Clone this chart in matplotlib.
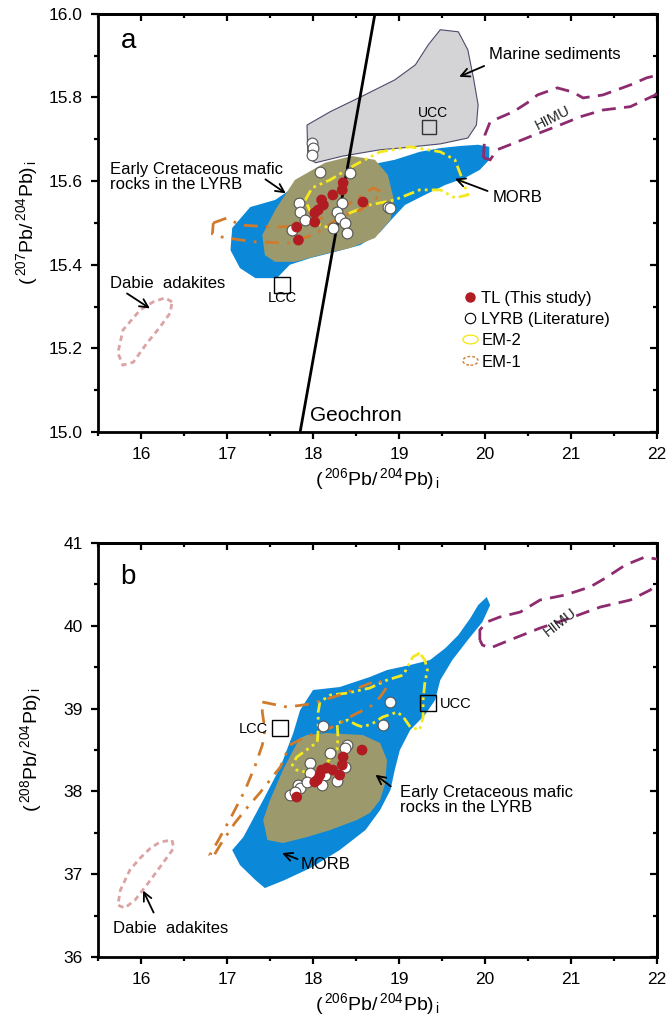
import numpy as np
import matplotlib
matplotlib.use("Agg")
import matplotlib.pyplot as plt
from matplotlib.patches import Polygon, Ellipse
from matplotlib.lines import Line2D
from matplotlib.legend_handler import HandlerPatch
from matplotlib.ticker import MultipleLocator, FormatStrFormatter

plt.rcParams["font.family"] = ["Liberation Sans", "DejaVu Sans"]
plt.rcParams["mathtext.fontset"] = "custom"
plt.rcParams["mathtext.rm"] = "Liberation Sans"
plt.rcParams["mathtext.it"] = "Liberation Sans"

# ---- panel a: 206Pb/204Pb vs 207Pb/204Pb ----
tl_a_x = [18.35, 18.34, 18.23, 18.10, 18.12, 18.06, 18.02, 18.02, 17.81, 17.83, 18.58]
tl_a_y = [15.596, 15.579, 15.567, 15.555, 15.543, 15.531, 15.524, 15.502, 15.490, 15.459, 15.550]
lyrb_a_x = [17.99, 18.00, 17.99, 18.08, 18.43, 17.84, 17.85, 17.91, 17.76,
            18.34, 18.28, 18.31, 18.23, 18.37, 18.40, 18.87, 18.90]
lyrb_a_y = [15.691, 15.679, 15.663, 15.622, 15.620, 15.548, 15.526, 15.507, 15.483,
            15.548, 15.526, 15.512, 15.488, 15.500, 15.476, 15.538, 15.536]

marine_x = [17.93, 18.20, 18.60, 18.95, 19.19, 19.34, 19.48, 19.69, 19.80, 19.87,
            19.92, 19.90, 19.80, 19.48, 19.01, 18.78, 18.35, 18.03, 17.94]
marine_y = [15.734, 15.766, 15.806, 15.842, 15.878, 15.926, 15.962, 15.957, 15.914, 15.842,
            15.782, 15.734, 15.703, 15.689, 15.679, 15.675, 15.660, 15.644, 15.656]

morb_a_x = [17.06, 17.27, 17.56, 17.73, 17.97, 18.31, 18.66, 18.95, 19.24, 19.48, 19.71,
            19.92, 20.05, 20.05, 19.94, 19.77, 19.54, 19.30, 19.07, 18.93, 18.78, 18.55,
            18.26, 17.97, 17.73, 17.58, 17.33, 17.15, 17.04]
morb_a_y = [15.488, 15.538, 15.555, 15.579, 15.603, 15.627, 15.639, 15.651, 15.670, 15.679,
            15.684, 15.687, 15.682, 15.651, 15.627, 15.608, 15.591, 15.567, 15.543, 15.512,
            15.478, 15.447, 15.431, 15.416, 15.400, 15.368, 15.368, 15.392, 15.435]

ec_a_x = [17.44, 17.41, 17.56, 17.79, 18.14, 18.45, 18.72, 18.87, 18.94, 18.90, 18.72,
          18.43, 18.08, 17.79, 17.56]
ec_a_y = [15.423, 15.471, 15.531, 15.603, 15.644, 15.660, 15.651, 15.615, 15.555, 15.507,
          15.464, 15.440, 15.423, 15.407, 15.407]

em2_a_x = [17.91, 17.99, 18.20, 18.49, 18.78, 19.13, 19.48, 19.65, 19.73, 19.80, 19.65,
           19.48, 19.24, 18.95, 18.66, 18.37, 18.20, 18.08, 17.97]
em2_a_y = [15.555, 15.584, 15.603, 15.639, 15.670, 15.682, 15.670, 15.651, 15.608, 15.567,
           15.560, 15.579, 15.579, 15.555, 15.543, 15.519, 15.488, 15.495, 15.526]

em1_a_x = [16.84, 17.00, 17.15, 17.54, 17.85, 18.20, 18.49, 18.70, 18.80, 18.72, 18.55,
           18.31, 18.05, 17.73, 17.30, 17.07, 16.92, 16.83]
em1_a_y = [15.500, 15.512, 15.495, 15.490, 15.493, 15.519, 15.555, 15.584, 15.574, 15.555,
           15.531, 15.514, 15.476, 15.452, 15.455, 15.462, 15.467, 15.474]

himu_a_x = [19.98, 20.00, 20.06, 20.33, 20.49, 20.61, 20.84, 21.02, 21.14, 21.37, 21.69,
            21.88, 22.06, 22.06, 21.98, 21.69, 21.37, 21.11, 20.87, 20.58, 20.29, 20.14, 20.06]
himu_a_y = [15.656, 15.711, 15.742, 15.766, 15.787, 15.806, 15.823, 15.813, 15.799, 15.806,
            15.830, 15.847, 15.856, 15.830, 15.806, 15.778, 15.770, 15.754, 15.734, 15.711,
            15.687, 15.675, 15.651]

dabie_a_x = [16.36, 16.28, 16.14, 15.99, 15.79, 15.73, 15.79, 15.91, 16.07, 16.22, 16.34]
dabie_a_y = [15.311, 15.321, 15.311, 15.292, 15.244, 15.189, 15.160, 15.167, 15.213, 15.251, 15.285]

geochron_x = [17.85, 18.72]
geochron_y = [15.0, 16.0]
ucc_a = (19.35, 15.730)
lcc_a = (17.64, 15.352)

# ---- panel b: 206Pb/204Pb vs 208Pb/204Pb ----
tl_b_x = [18.57, 18.35, 18.34, 18.23, 18.16, 18.10, 18.08, 18.05, 18.02, 18.31, 17.81]
tl_b_y = [38.500, 38.416, 38.319, 38.258, 38.282, 38.258, 38.198, 38.138, 38.114, 38.198, 37.932]
lyrb_b_x = [18.90, 18.81, 18.12, 18.40, 18.37, 18.20, 17.97, 18.37, 17.97, 18.14, 18.28,
            18.11, 17.83, 17.85, 17.73, 17.79, 17.93]
lyrb_b_y = [39.079, 38.802, 38.790, 38.561, 38.524, 38.464, 38.343, 38.295, 38.223, 38.199,
            38.126, 38.077, 38.077, 38.041, 37.957, 37.993, 38.114]

morb_b_x = [17.06, 17.19, 17.42, 17.62, 17.77, 17.85, 18.00, 18.31, 18.66, 18.86, 19.13,
            19.36, 19.54, 19.69, 19.83, 19.92, 20.02, 20.06, 19.97, 19.80, 19.62, 19.48,
            19.42, 19.30, 19.13, 19.01, 18.95, 18.90, 18.78, 18.61, 18.31, 17.97, 17.67,
            17.44, 17.33, 17.15]
morb_b_y = [37.292, 37.449, 37.896, 38.295, 38.705, 38.983, 39.225, 39.261, 39.382, 39.466,
            39.527, 39.587, 39.732, 39.889, 40.094, 40.251, 40.348, 40.251, 40.046, 39.829,
            39.587, 39.345, 39.104, 38.923, 38.742, 38.500, 38.258, 38.017, 37.775, 37.534,
            37.292, 37.075, 36.930, 36.833, 36.930, 37.111]

ec_b_x = [17.93, 18.16, 18.58, 18.78, 18.86, 18.84, 18.78, 18.66, 18.51, 18.20, 17.93,
          17.65, 17.47, 17.42, 17.50, 17.65, 17.77, 17.85]
ec_b_y = [38.681, 38.705, 38.681, 38.585, 38.379, 38.101, 37.896, 37.739, 37.655, 37.534,
          37.449, 37.377, 37.413, 37.655, 37.896, 38.258, 38.500, 38.645]

em2_b_x = [19.24, 19.16, 19.05, 18.86, 18.66, 18.40, 18.20, 18.08, 18.06, 18.06, 18.05,
           17.97, 17.81, 17.76, 17.81, 17.97, 18.11, 18.28, 18.29, 18.28, 18.40, 18.51,
           18.58, 18.70, 18.81, 18.98, 19.05, 19.13, 19.24, 19.28, 19.28, 19.30, 19.33, 19.30]
em2_b_y = [39.671, 39.623, 39.406, 39.345, 39.249, 39.188, 39.164, 39.080, 38.959, 38.742,
           38.597, 38.536, 38.415, 38.319, 38.258, 38.222, 38.283, 38.500, 38.657, 38.826,
           38.862, 38.802, 38.778, 38.826, 38.899, 38.959, 38.899, 38.778, 38.742, 38.899,
           39.104, 39.309, 39.466, 39.587]

em1_b_x = [17.41, 17.70, 17.97, 18.31, 18.61, 18.76, 18.86, 18.78, 18.66, 18.47, 18.28,
           18.08, 17.93, 17.73, 17.62, 17.50, 17.38, 17.24, 17.09, 16.92, 16.83, 16.80,
           16.90, 17.06, 17.21, 17.33, 17.41, 17.44, 17.41]
em1_b_y = [39.080, 39.019, 39.056, 39.164, 39.285, 39.345, 39.261, 39.140, 39.019, 38.923,
           38.802, 38.717, 38.669, 38.560, 38.295, 38.138, 37.981, 37.812, 37.618, 37.353,
           37.196, 37.232, 37.413, 37.715, 38.017, 38.319, 38.560, 38.742, 38.959]

himu_b_x = [19.94, 19.94, 20.02, 20.17, 20.41, 20.64, 20.93, 21.22, 21.40, 21.63, 21.86,
            22.06, 22.06, 21.92, 21.69, 21.34, 20.99, 20.64, 20.29, 20.06, 19.97]
himu_b_y = [39.829, 39.949, 40.046, 40.106, 40.167, 40.312, 40.372, 40.469, 40.577, 40.734,
            40.831, 40.795, 40.553, 40.432, 40.312, 40.227, 40.094, 39.973, 39.829, 39.732, 39.768]

dabie_b_x = [16.36, 16.38, 16.28, 16.11, 15.93, 15.81, 15.73, 15.76, 15.87, 15.99, 16.11, 16.22]
dabie_b_y = [37.413, 37.316, 37.172, 36.930, 36.688, 36.592, 36.628, 36.809, 37.051, 37.196,
             37.316, 37.389]

ucc_b = (19.34, 39.068)
lcc_b = (17.62, 38.766)

# colours
C_MORB = "#0b88d8"
C_EC = "#9c9a6c"
C_SED = "#d4d4d6"
C_RED = "#b01c22"
C_EM2 = "#f4e81e"
C_EM1 = "#d07b2c"
C_HIMU = "#8c2b6e"
C_DAB = "#dba3a3"

FS = 12
XLAB = r"$(\,^{206}\mathrm{Pb}/\,^{204}\mathrm{Pb})_{\,\mathrm{i}}$"


class HandlerEllipse(HandlerPatch):
    def create_artists(self, legend, orig_handle, xdescent, ydescent,
                       width, height, fontsize, trans):
        cx = 0.5 * width - xdescent
        cy = 0.5 * height - ydescent
        p = Ellipse(xy=(cx, cy), width=height * 1.3, height=height * 0.75)
        self.update_prop(p, orig_handle, legend)
        p.set_transform(trans)
        return [p]


def field(ax, xs, ys, **kw):
    ax.add_patch(Polygon(np.column_stack([xs, ys]), closed=True, **kw))


def style_axes(ax, ylo, yhi, ymaj, ymin):
    ax.set_xlim(15.5, 22)
    ax.set_ylim(ylo, yhi)
    ax.xaxis.set_major_locator(MultipleLocator(1))
    ax.xaxis.set_minor_locator(MultipleLocator(0.5))
    ax.yaxis.set_major_locator(MultipleLocator(ymaj))
    ax.yaxis.set_minor_locator(MultipleLocator(ymin))
    for s in ax.spines.values():
        s.set_linewidth(2)
    ax.tick_params(which="both", direction="out", top=False, right=False,
                   width=1.6, labelsize=12.5)
    ax.tick_params(which="major", length=5, pad=6)
    ax.tick_params(which="minor", length=3)
    sec = ax.secondary_xaxis("top")
    sec.xaxis.set_major_locator(MultipleLocator(1))
    sec.xaxis.set_minor_locator(MultipleLocator(0.5))
    sec.tick_params(which="both", direction="in", width=1.6, labeltop=False)
    sec.tick_params(which="major", length=5)
    sec.tick_params(which="minor", length=3)
    sec.spines["top"].set_linewidth(2)
    secy = ax.secondary_yaxis("right")
    secy.yaxis.set_major_locator(MultipleLocator(ymaj))
    secy.yaxis.set_minor_locator(MultipleLocator(ymin))
    secy.tick_params(which="both", direction="in", width=1.6, labelright=False)
    secy.tick_params(which="major", length=5)
    secy.tick_params(which="minor", length=3)
    secy.spines["right"].set_linewidth(2)


def arrow(ax, text_xy, tip_xy):
    ax.annotate("", xy=tip_xy, xytext=text_xy,
                arrowprops=dict(arrowstyle="->", color="black", lw=1.3,
                                mutation_scale=15))


fig = plt.figure(figsize=(6.67, 10.25), dpi=100)
ax1 = fig.add_axes([0.147, 0.5785, 0.838, 0.408])
ax2 = fig.add_axes([0.147, 0.0663, 0.838, 0.4039])

# ---------- panel a ----------
field(ax1, morb_a_x, morb_a_y, facecolor=C_MORB, edgecolor="none", zorder=1)
field(ax1, marine_x, marine_y, facecolor=C_SED, edgecolor="#4b4b6b", lw=0.8, zorder=1.5)
field(ax1, ec_a_x, ec_a_y, facecolor=C_EC, edgecolor="none", zorder=2)
field(ax1, em2_a_x, em2_a_y, facecolor="none", edgecolor=C_EM2, lw=2,
      linestyle=(0, (4, 1.5, 1, 1.5, 1, 1.5)), zorder=3)
field(ax1, em1_a_x, em1_a_y, facecolor="none", edgecolor=C_EM1, lw=2,
      linestyle=(0, (5, 3, 1, 3)), zorder=3)
field(ax1, himu_a_x, himu_a_y, facecolor="none", edgecolor=C_HIMU, lw=2,
      linestyle=(0, (5, 3)), zorder=3)
field(ax1, dabie_a_x, dabie_a_y, facecolor="none", edgecolor=C_DAB, lw=2,
      linestyle=(0, (2, 1.5)), zorder=3)
ax1.plot(geochron_x, geochron_y, color="black", lw=2, zorder=4)
ax1.scatter(lyrb_a_x, lyrb_a_y, s=60, facecolor="white", edgecolor="#555555",
            lw=0.8, zorder=5)
ax1.scatter(tl_a_x, tl_a_y, s=60, color=C_RED, edgecolor="none", zorder=6)
ax1.plot(*ucc_a, marker="s", ms=10, mfc="none", mec="#333333", mew=1, zorder=5)
ax1.plot(*lcc_a, marker="s", ms=11, mfc="none", mec="black", mew=1, zorder=5)

ax1.text(0.04, 0.935, "a", transform=ax1.transAxes, fontsize=20, va="center")
ax1.text(0.379, 0.04, "Geochron", transform=ax1.transAxes, fontsize=15, va="center")
ax1.text(20.81, 15.902, "Marine sediments", fontsize=FS, ha="center", va="center")
arrow(ax1, (20.02, 15.878), (19.67, 15.847))
ax1.text(19.40, 15.763, "UCC", fontsize=10, ha="center", va="center")
ax1.text(17.64, 15.321, "LCC", fontsize=10.5, ha="center", va="center")
ax1.text(20.79, 15.751, "HIMU", fontsize=10.5, ha="center", va="center",
         rotation=27, color="#222222")
ax1.text(15.64, 15.61, "Early Cretaceous mafic\nrocks in the LYRB", fontsize=FS,
         ha="left", va="center", linespacing=1.0)
arrow(ax1, (17.42, 15.608), (17.71, 15.567))
ax1.text(20.09, 15.562, "MORB", fontsize=FS, ha="left", va="center")
arrow(ax1, (20.06, 15.574), (19.62, 15.608))
ax1.text(16.31, 15.356, "Dabie  adakites", fontsize=FS, ha="center", va="center")
arrow(ax1, (15.81, 15.335), (16.13, 15.292))

handles = [
    Line2D([], [], ls="none", marker="o", ms=7.5, mfc=C_RED, mec="none"),
    Line2D([], [], ls="none", marker="o", ms=7.5, mfc="white", mec="black", mew=0.8),
    Ellipse((0, 0), 1, 1, facecolor="none", edgecolor=C_EM2, lw=1),
    Ellipse((0, 0), 1, 1, facecolor="none", edgecolor=C_EM1, lw=1, linestyle=(0, (2, 1.5))),
]
labels = ["TL (This study)", "LYRB (Literature)", "EM-2", "EM-1"]
ax1.legend(handles, labels, loc="upper left", bbox_to_anchor=(0.638, 0.358),
           frameon=False, fontsize=FS, handlelength=0.9, handletextpad=0.2,
           labelspacing=0.38, borderpad=0,
           handler_map={Ellipse: HandlerEllipse()})

style_axes(ax1, 15.0, 16.0, 0.2, 0.1)
ax1.yaxis.set_major_formatter(FormatStrFormatter("%.1f"))
ax1.set_xlabel(XLAB, fontsize=14, labelpad=3)
ax1.set_ylabel(XLAB.replace("206", "207"), fontsize=14, labelpad=6)

# ---------- panel b ----------
field(ax2, morb_b_x, morb_b_y, facecolor=C_MORB, edgecolor="none", zorder=1)
field(ax2, ec_b_x, ec_b_y, facecolor=C_EC, edgecolor="none", zorder=2)
field(ax2, em2_b_x, em2_b_y, facecolor="none", edgecolor=C_EM2, lw=2,
      linestyle=(0, (4, 1.5, 1, 1.5, 1, 1.5)), zorder=3)
field(ax2, em1_b_x, em1_b_y, facecolor="none", edgecolor=C_EM1, lw=2,
      linestyle=(0, (5, 3, 1, 3)), zorder=3)
field(ax2, himu_b_x, himu_b_y, facecolor="none", edgecolor=C_HIMU, lw=2,
      linestyle=(0, (5, 3)), zorder=3)
field(ax2, dabie_b_x, dabie_b_y, facecolor="none", edgecolor=C_DAB, lw=2,
      linestyle=(0, (2, 1.5)), zorder=3)
ax2.scatter(lyrb_b_x, lyrb_b_y, s=60, facecolor="white", edgecolor="#555555",
            lw=0.8, zorder=5)
ax2.scatter(tl_b_x, tl_b_y, s=60, color=C_RED, edgecolor="none", zorder=6)
ax2.plot(*ucc_b, marker="s", ms=12, mfc="none", mec="black", mew=1, zorder=5)
ax2.plot(*lcc_b, marker="s", ms=12, mfc="none", mec="black", mew=1, zorder=5)

ax2.text(0.04, 0.918, "b", transform=ax2.transAxes, fontsize=20, va="center")
ax2.text(20.87, 40.046, "HIMU", fontsize=10.5, ha="center", va="center",
         rotation=38, color="#222222")
ax2.text(19.47, 39.056, "UCC", fontsize=10.5, ha="left", va="center")
ax2.text(17.30, 38.754, "LCC", fontsize=10.5, ha="center", va="center")
ax2.text(19.01, 37.896, "Early Cretaceous mafic\nrocks in the LYRB", fontsize=FS,
         ha="left", va="center", linespacing=1.0)
arrow(ax2, (18.93, 38.041), (18.70, 38.222))
ax2.text(17.85, 37.123, "MORB", fontsize=FS, ha="left", va="center")
arrow(ax2, (17.85, 37.171), (17.61, 37.268))
ax2.text(16.34, 36.350, "Dabie  adakites", fontsize=FS, ha="center", va="center")
arrow(ax2, (16.16, 36.507), (16.01, 36.833))

style_axes(ax2, 36, 41, 1, 0.5)
ax2.set_xlabel(XLAB, fontsize=14, labelpad=3)
ax2.set_ylabel(XLAB.replace("206", "208"), fontsize=14, labelpad=14)

fig.savefig("out.png", dpi=100)
